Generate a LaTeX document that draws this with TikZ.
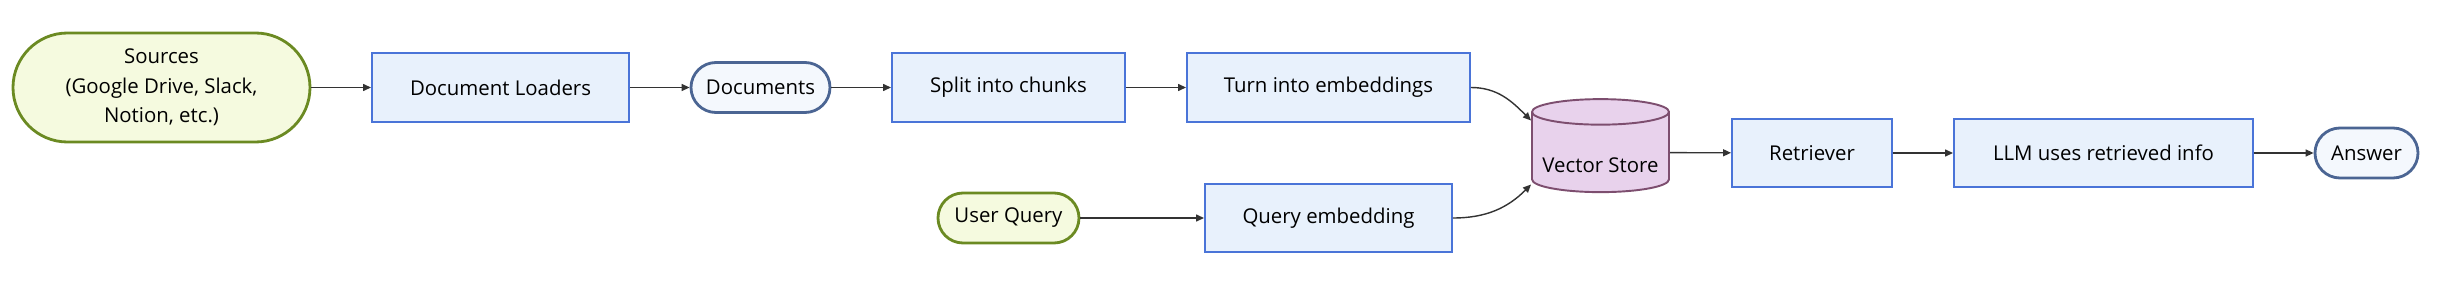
\documentclass[tikz,border=0pt]{standalone}
\usepackage{fontspec}
\setmainfont{Open Sans}
\usetikzlibrary{calc,shapes.geometric,arrows.meta}
\definecolor{stepfill}{HTML}{E8F1FC}
\definecolor{stepline}{HTML}{4A74D8}
\definecolor{srcfill}{HTML}{F5FADF}
\definecolor{srcline}{HTML}{6B8A22}
\definecolor{docfill}{HTML}{F4F8FD}
\definecolor{docline}{HTML}{4B6593}
\definecolor{storefill}{HTML}{E8D2EC}
\definecolor{storeline}{HTML}{7D4E6F}
\definecolor{flowgray}{HTML}{333333}

\begin{document}
\begin{tikzpicture}[>={Triangle[length=1.6mm,width=1.4mm]},
  font=\fontsize{11.6}{16.8}\selectfont,
  stepbox/.style={draw=stepline,fill=stepfill,line width=1.1pt,minimum height=1.38cm,inner sep=0pt},
  srcbox/.style={draw=srcline,fill=srcfill,line width=1.6pt,rounded corners=0.5cm,minimum height=1cm,inner sep=0pt},
  endbox/.style={draw=docline,fill=docfill,line width=1.6pt,rounded corners=0.5cm,minimum height=1cm,inner sep=0pt},
  flow/.style={->,draw=flowgray,line width=0.8pt}]
\useasboundingbox (0,0) rectangle (48.74,6);
% ingestion row
\node[srcbox,rounded corners=1.09cm,minimum width=5.94cm,minimum height=2.18cm,align=center] (src) at (3.23,4.25) {Sources\\(Google Drive, Slack,\\Notion, etc.)};
\node[stepbox,minimum width=5.14cm] (load) at (10.01,4.25) {Document Loaders};
\node[endbox,minimum width=2.78cm] (docs) at (15.21,4.25) {Documents};
\node[stepbox,minimum width=4.66cm] (split) at (20.17,4.25) {Split into chunks};
\node[stepbox,minimum width=5.66cm] (embed) at (26.57,4.25) {Turn into embeddings};
% query row
\node[srcbox,minimum width=2.82cm] (query) at (20.17,1.64) {User Query};
\node[stepbox,minimum width=4.94cm,minimum height=1.36cm] (qemb) at (26.57,1.64) {Query embedding};
% store and answer
\node[cylinder,shape border rotate=90,aspect=0.22,draw=storeline,fill=storefill,line width=1.1pt,minimum width=2.74cm,minimum height=1.86cm,inner sep=0pt] (store) at (32.01,2.95) {\raisebox{-0.4cm}[0pt][0pt]{Vector Store}};
\node[stepbox,minimum width=3.2cm,minimum height=1.36cm] (ret) at (36.24,2.94) {Retriever};
\node[stepbox,minimum width=5.98cm,minimum height=1.36cm] (llm) at (42.07,2.94) {LLM uses retrieved info};
\node[endbox,minimum width=2.06cm] (ans) at (47.33,2.94) {Answer};
% connectors
\draw[flow] (src) -- (load);
\draw[flow] (load) -- (docs);
\draw[flow] (docs) -- (split);
\draw[flow] (split) -- (embed);
\draw[flow] (query) -- (qemb);
\draw[flow] (embed.east) to[out=0,in=135] ($(store.west)+(0,0.64)$);
\draw[flow] (qemb.east) to[out=0,in=225] ($(store.west)+(0,-0.64)$);
\draw[flow] (store) -- (ret);
\draw[flow] (ret) -- (llm);
\draw[flow] (llm) -- (ans);
\end{tikzpicture}
\end{document}
